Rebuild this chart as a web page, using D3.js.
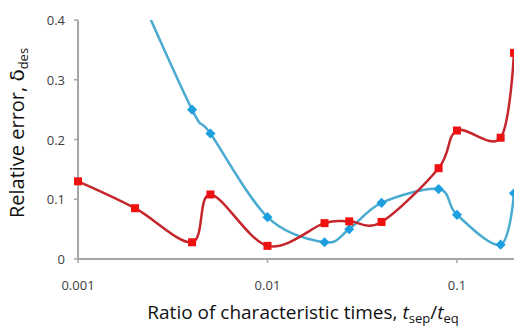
<!DOCTYPE html>
<html>
<head>
<meta charset="utf-8">
<script src="https://cdn.jsdelivr.net/npm/d3@7"></script>
<style>
  body { margin: 0; background: #fff; }
  svg { display: block; font-family: 'Open Sans', 'Noto Sans', sans-serif; }
</style>
</head>
<body>
<svg id="chart" width="514" height="329"></svg>
<script>
const xTicks = [0.001, 0.01, 0.1];
const yTicks = [0, 0.1, 0.2, 0.3, 0.4];

const redX = [0.001, 0.002, 0.004, 0.005, 0.01, 0.02, 0.027, 0.04, 0.08, 0.1, 0.17, 0.2];
const redY = [0.13, 0.085, 0.028, 0.108, 0.022, 0.06, 0.063, 0.062, 0.152, 0.215, 0.203, 0.345];

const blueX = [0.002, 0.004, 0.005, 0.01, 0.02, 0.027, 0.04, 0.08, 0.1, 0.17, 0.2];
const blueY = [0.46, 0.25, 0.21, 0.07, 0.028, 0.05, 0.094, 0.117, 0.074, 0.024, 0.11];

const svg = d3.select('#chart');
const mLeft = 78, mRight = 514, mTop = 20, mBottom = 259;

const x = d3.scaleLog().domain([0.001, 0.2]).range([mLeft, mRight]);
const y = d3.scaleLinear().domain([0, 0.4]).range([mBottom, mTop]);

svg.append('defs').append('clipPath').attr('id', 'plot')
  .append('rect').attr('x', mLeft - 6).attr('y', mTop).attr('width', mRight - mLeft + 10).attr('height', mBottom - mTop + 6);

// axes
const axisColor = '#a6a6a6';
svg.append('line').attr('x1', mLeft).attr('x2', mRight).attr('y1', mBottom).attr('y2', mBottom)
  .attr('stroke', axisColor).attr('stroke-width', 2);
svg.append('line').attr('x1', mLeft).attr('x2', mLeft).attr('y1', mTop).attr('y2', mBottom)
  .attr('stroke', axisColor).attr('stroke-width', 2);

yTicks.forEach((t) => {
  svg.append('line').attr('x1', mLeft - 4).attr('x2', mLeft).attr('y1', y(t)).attr('y2', y(t))
    .attr('stroke', axisColor).attr('stroke-width', 1.5);
  svg.append('text').attr('x', mLeft - 13).attr('y', y(t) + 5)
    .attr('text-anchor', 'end').attr('font-size', 13).attr('fill', '#404040')
    .text(t === 0 ? '0' : d3.format('.1f')(t));
});

xTicks.forEach((t) => {
  svg.append('line').attr('x1', x(t)).attr('x2', x(t)).attr('y1', mBottom).attr('y2', mBottom + 4)
    .attr('stroke', axisColor).attr('stroke-width', 1.5);
  svg.append('text').attr('x', x(t)).attr('y', mBottom + 31)
    .attr('text-anchor', 'middle').attr('font-size', 13).attr('fill', '#404040')
    .text(String(t));
});

// axis titles
const yt = svg.append('text')
  .attr('transform', `translate(24, ${133}) rotate(-90)`)
  .attr('text-anchor', 'middle').attr('font-size', 20).attr('fill', '#111');
yt.append('tspan').text('Relative error, ');
yt.append('tspan').attr('font-family', 'DejaVu Sans').text('δ');
yt.append('tspan').attr('font-size', 13).attr('dy', 4).text('des');

const xt = svg.append('text')
  .attr('x', 303).attr('y', 319)
  .attr('text-anchor', 'middle').attr('font-size', 19).attr('fill', '#111');
xt.append('tspan').text('Ratio of characteristic times, ');
xt.append('tspan').attr('font-style', 'italic').text('t');
xt.append('tspan').attr('font-size', 13).attr('dy', 4).text('sep');
xt.append('tspan').attr('dy', -4).text('/');
xt.append('tspan').attr('font-style', 'italic').text('t');
xt.append('tspan').attr('font-size', 13).attr('dy', 4).text('eq');

// series
const line = d3.line().x((d) => x(d[0])).y((d) => y(d[1])).curve(d3.curveCardinal.tension(0));
const plot = svg.append('g').attr('clip-path', 'url(#plot)');

const blue = blueX.map((v, i) => [v, blueY[i]]);
const red = redX.map((v, i) => [v, redY[i]]);

plot.append('path').datum(blue).attr('d', line)
  .attr('fill', 'none').attr('stroke', '#4aabd0').attr('stroke-width', 2.5);
plot.append('path').datum(red).attr('d', line)
  .attr('fill', 'none').attr('stroke', '#c4262c').attr('stroke-width', 2.5);

// diamonds: squares turned 45 degrees
plot.selectAll('.dia').data(blue.filter((d) => d[1] <= 0.4)).join('rect')
  .attr('class', 'dia')
  .attr('transform', (d) => `translate(${x(d[0])},${y(d[1])}) rotate(45)`)
  .attr('x', -3.6).attr('y', -3.6).attr('width', 7.2).attr('height', 7.2)
  .attr('fill', '#1e9fe0');

plot.selectAll('.sq').data(red).join('rect')
  .attr('class', 'sq')
  .attr('x', (d) => x(d[0]) - 4).attr('y', (d) => y(d[1]) - 4)
  .attr('width', 8).attr('height', 8)
  .attr('fill', '#ee1111');
</script>
</body>
</html>
